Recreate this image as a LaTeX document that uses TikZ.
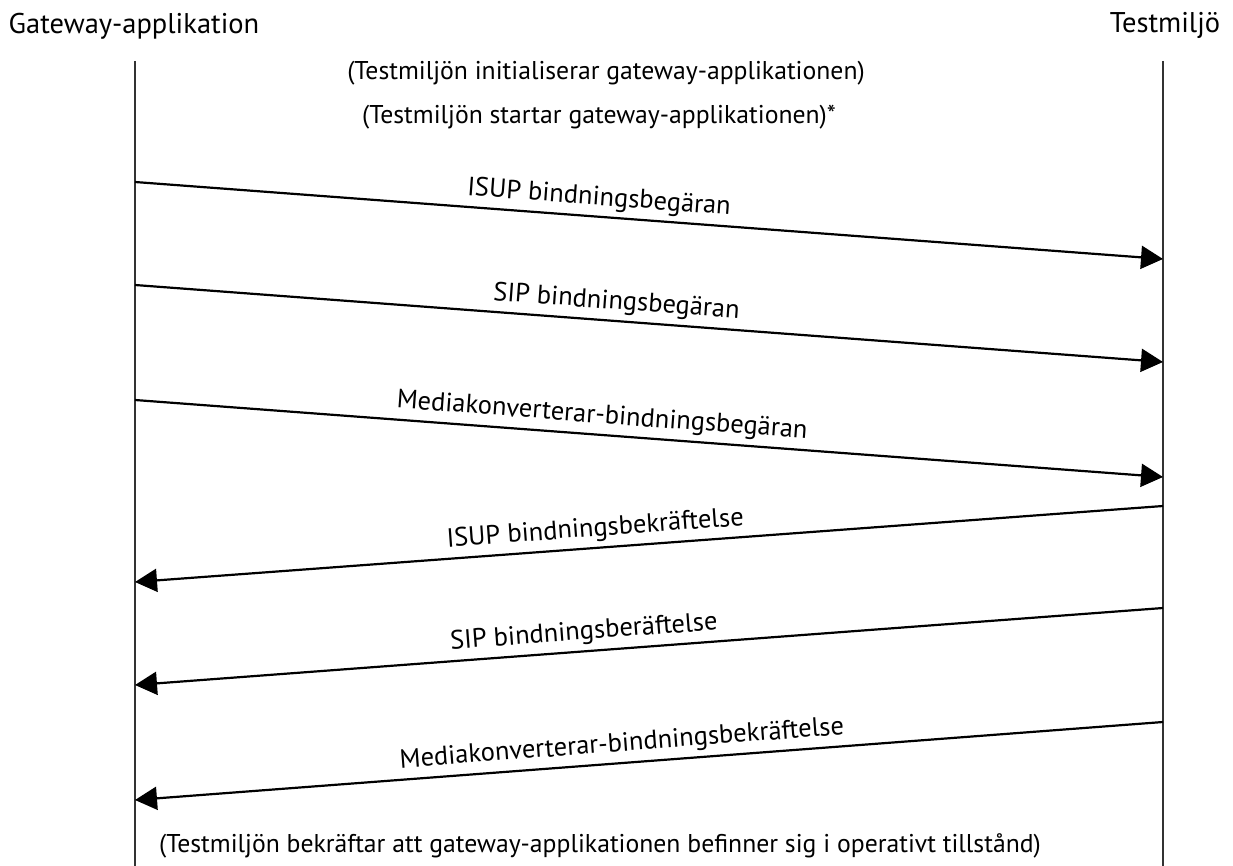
\documentclass[tikz,border=0pt]{standalone}
\usepackage{fontspec}
\setmainfont{PT Sans}
\usetikzlibrary{arrows.meta}
\begin{document}
\begin{tikzpicture}[x=1pt,y=-1pt,
  lifeline/.style={line width=2.6pt,draw=black!80},
  msg/.style={line width=2.2pt,-{Triangle[length=22pt,width=23pt]}},
  lbl/.style={font=\fontsize{26.5}{31}\selectfont,sloped,above,inner sep=5pt},
  txt/.style={font=\fontsize{25.7}{30}\selectfont,inner sep=0pt},
  title/.style={font=\fontsize{28.5}{33}\selectfont,inner sep=0pt}]
\useasboundingbox (0,0) rectangle (1233,866);
% participants
\node[title] (gw) at (134,26) {Gateway-applikation};
\node[title] (tm) at (1165,25) {Testmiljö};
% lifelines
\coordinate (gwtop) at (135,61);
\coordinate (gwbot) at (135,866);
\coordinate (tmtop) at (1163,61);
\coordinate (tmbot) at (1163,866);
\draw[lifeline] (gwtop) -- (gwbot);
\draw[lifeline] (tmtop) -- (tmbot);
% notes
\node[txt] (n1) at (606,73) {(Testmiljön initialiserar gateway-applikationen)};
\node[txt] (n2) at (599,117) {(Testmiljön startar gateway-applikationen)*};
\node[txt] (n3) at (600,846) {(Testmiljön bekräftar att gateway-applikationen befinner sig i operativt tillstånd)};
% message endpoints
\coordinate (a1) at (135,182); \coordinate (b1) at (1163,259);
\coordinate (a2) at (135,285); \coordinate (b2) at (1163,362);
\coordinate (a3) at (135,400); \coordinate (b3) at (1163,477);
\coordinate (b4) at (1163,506); \coordinate (a4) at (135,582);
\coordinate (b5) at (1163,608); \coordinate (a5) at (135,685);
\coordinate (b6) at (1163,722); \coordinate (a6) at (135,800);
% requests
\draw[msg] (a1) -- node[lbl,pos=0.45] (m1) {ISUP bindningsbegäran} (b1);
\draw[msg] (a2) -- node[lbl,pos=0.467] (m2) {SIP bindningsbegäran} (b2);
\draw[msg] (a3) -- node[lbl,pos=0.453] (m3) {Mediakonverterar-bindningsbegäran} (b3);
% confirmations
\draw[msg] (b4) -- node[lbl,pos=0.551] (m4) {ISUP bindningsbekräftelse} (a4);
\draw[msg] (b5) -- node[lbl,pos=0.562] (m5) {SIP bindningsberäftelse} (a5);
\draw[msg] (b6) -- node[lbl,pos=0.525] (m6) {Mediakonverterar-bindningsbekräftelse} (a6);
\end{tikzpicture}
\end{document}
